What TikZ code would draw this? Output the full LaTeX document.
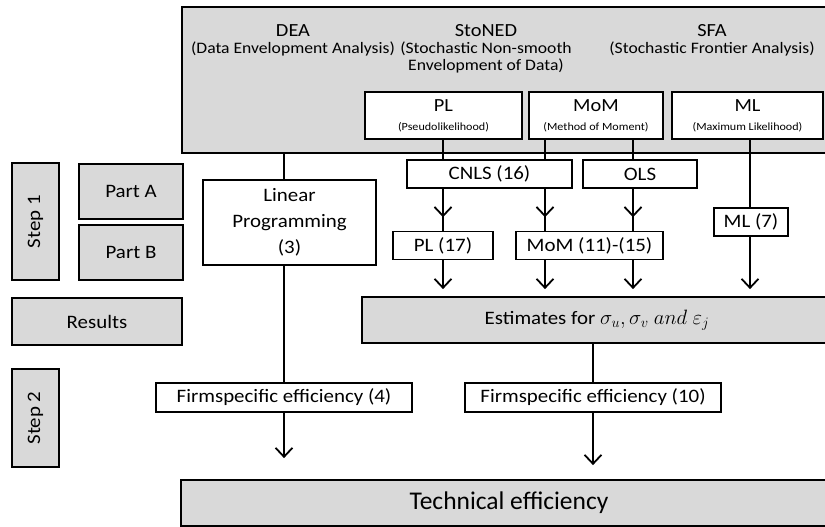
\documentclass[tikz,border=0pt]{standalone}
\usepackage{fontspec}
\setmainfont[FakeStretch=1.1]{Carlito}
\newfontfamily\tefont{Carlito}
\usetikzlibrary{arrows.meta,decorations.markings}

\definecolor{boxgrey}{RGB}{217,217,217}
\newcommand{\boxtext}{\fontsize{19}{26}\selectfont}
\newcommand{\subtext}{\fontsize{16}{17}\selectfont}
\newcommand{\tinytext}{\fontsize{11}{13}\selectfont}

\tikzset{
  greybox/.style={draw, line width=1.8pt, fill=boxgrey, inner sep=0pt, font=\boxtext},
  stepbox/.style={draw, line width=1.8pt, fill=white, inner sep=0pt, minimum height=28, font=\boxtext},
  methodbox/.style={stepbox, minimum height=47, align=center, font=\fontsize{18.5}{19}\selectfont},
  headtext/.style={anchor=north, align=center, inner sep=0pt, font=\subtext},
  link/.style={line width=1.8pt},
  arr/.style={line width=1.8pt, -{Straight Barb[length=9pt,width=17pt]}},
  tipat/.style={postaction={decorate}, decoration={markings,
      mark=at position #1 with {\arrow{Straight Barb[length=9pt,width=17pt]}}}},
}

\begin{document}
\begin{tikzpicture}[x=1pt,y=-1pt]
 \clip (0,0) rectangle (825,527);
 % columns of the connectors
 \coordinate (colDEA) at (284,0);
 \coordinate (colA) at (443,0);
 \coordinate (colB) at (545,0);
 \coordinate (colC) at (633,0);
 \coordinate (colD) at (750,0);

 % the three methods
 \node[greybox, minimum width=655, minimum height=146] (methods) at (509.5,80) {};
 \node[headtext] (dea) at (293,24) {{\fontsize{18.5}{17}\selectfont DEA}\\(Data Envelopment Analysis)};
 \node[headtext] (stoned) at (486,24) {{\fontsize{18.5}{17}\selectfont StoNED}\\(Stochastic Non-smooth\\Envelopment of Data)};
 \node[headtext] (sfa) at (712,24) {{\fontsize{18.5}{17}\selectfont SFA}\\(Stochastic Frontier Analysis)};
 \node[methodbox, minimum width=157] (pl) at (443.5,115.5) {PL\\{\tinytext (Pseudolikelihood)}};
 \node[methodbox, minimum width=134] (mom) at (596,115.5) {MoM\\{\tinytext (Method of Moment)}};
 \node[methodbox, minimum width=151] (ml) at (747.5,115.5) {ML\\{\tinytext (Maximum Likelihood)}};

 % legend
 \node[greybox, rotate=90, minimum width=117, minimum height=47] (step1) at (35.5,221.5) {Step 1};
 \node[greybox, minimum width=104, minimum height=55] (partA) at (131,191.5) {Part A};
 \node[greybox, minimum width=104, minimum height=55] (partB) at (131,252.5) {Part B};
 \node[greybox, minimum width=170, minimum height=47] (results) at (97,321.5) {Results};
 \node[greybox, rotate=90, minimum width=98, minimum height=47] (step2) at (35.5,418) {Step 2};

 % step 1
 \node[stepbox, minimum width=173, minimum height=85, align=center] (lp) at (289.5,222.5) {Linear\\Programming\\(3)};
 \node[stepbox, minimum width=165] (cnls) at (489.5,174) {CNLS (16)};
 \node[stepbox, minimum width=114] (ols) at (640,174) {OLS};
 \node[stepbox, minimum width=74] (ml7) at (751,222) {ML (7)};
 \node[stepbox, minimum width=100] (pl17) at (443,245.5) {PL (17)};
 \node[stepbox, minimum width=147] (mom15) at (589.5,245.5) {MoM (11)-(15)};
 \node[greybox, minimum width=470, minimum height=46] (est) at (597,320) {Estimates for {\fontsize{21.5}{26}\selectfont$\sigma_u,\sigma_v\ and\ \varepsilon_j$}};

 % step 2
 \node[stepbox, minimum width=256, minimum height=29] (firmA) at (284,397.5) {Firmspecific efficiency (4)};
 \node[stepbox, minimum width=256, minimum height=29] (firmB) at (593,397.5) {Firmspecific efficiency (10)};
 \node[greybox, minimum width=656, minimum height=46, font=\tefont\fontsize{25.5}{28}\selectfont] (te) at (509,503) {Technical efficiency};

 % connectors
 \draw[link] (methods.south -| colDEA) -- (lp.north -| colDEA);
 \draw[link] (lp.south -| colDEA) -- (firmA.north -| colDEA);
 \draw[arr, shorten >=21pt] (firmA.south) -- (firmA.south |- te.north);
 \draw[link] (pl.south -| colA) -- (cnls.north -| colA);
 \draw[link] (mom.south -| colB) -- (cnls.north -| colB);
 \draw[link] (mom.south -| colC) -- (ols.north -| colC);
 \draw[link] (ml.south -| colD) -- (ml7.north -| colD);
 \draw[link, tipat=0.68] (cnls.south -| colA) -- (pl17.north -| colA);
 \draw[link, tipat=0.68] (cnls.south -| colB) -- (mom15.north -| colB);
 \draw[link, tipat=0.68] (ols.south -| colC) -- (mom15.north -| colC);
 \foreach \n/\c in {pl17/colA, mom15/colB, mom15/colC, ml7/colD}
  \draw[arr, shorten >=7pt] (\n.south -| \c) -- (est.north -| \c);
 \draw[link] (est.south -| firmB) -- (firmB.north);
 \draw[arr, shorten >=14pt] (firmB.south) -- (firmB.south |- te.north);
\end{tikzpicture}
\end{document}
